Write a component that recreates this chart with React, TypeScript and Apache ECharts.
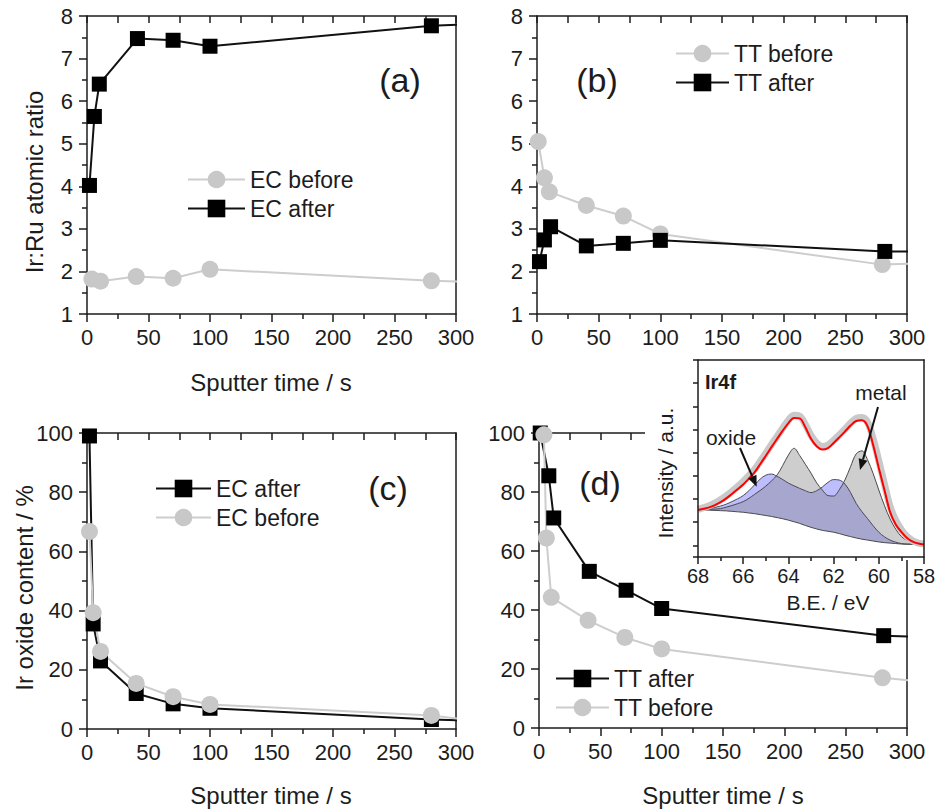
import React, { useEffect, useRef } from "react";
import * as echarts from "echarts";

const FONT = "'Liberation Sans', Arial, Helvetica, sans-serif";
const AX = "#1c1c1c";
const TXT = "#1c1c1c";

// ---------- Panel (a): Ir:Ru atomic ratio, EC samples ----------
const timeA_before = [4, 11, 40, 70, 100, 280, 320];
const ratioA_before = [1.82, 1.77, 1.88, 1.84, 2.05, 1.78, 1.75];
const timeA_after = [2, 6, 10, 41, 70, 100, 280, 320];
const ratioA_after = [4.02, 5.64, 6.4, 7.47, 7.43, 7.29, 7.77, 7.82];

// ---------- Panel (b): Ir:Ru atomic ratio, TT samples ----------
const timeB_before = [1, 6, 10, 40, 70, 100, 280, 320];
const ratioB_before = [5.05, 4.2, 3.87, 3.55, 3.3, 2.88, 2.16, 2.2];
const timeB_after = [2, 6, 11, 40, 70, 100, 282, 320];
const ratioB_after = [2.23, 2.74, 3.05, 2.6, 2.66, 2.73, 2.47, 2.47];

// ---------- Panel (c): Ir oxide content, EC samples ----------
const timeC_after = [2, 5, 11, 40, 70, 100, 280, 320];
const oxideC_after = [99, 35.5, 23, 12, 8.5, 7, 3.2, 2.8];
const timeC_before = [2, 5, 11, 40, 70, 100, 280, 320];
const oxideC_before = [66.7, 39.3, 26.2, 15.4, 10.9, 8.3, 4.6, 2.6];

// ---------- Panel (d): Ir oxide content, TT samples ----------
const timeD_after = [1, 8, 12, 41, 71, 100, 281, 320];
const oxideD_after = [100, 85.5, 71.2, 53.1, 46.7, 40.5, 31.3, 30.8];
const timeD_before = [4, 6, 10, 40, 70, 100, 280, 320];
const oxideD_before = [99.4, 64.4, 44.3, 36.5, 30.7, 26.8, 17, 15.5];

// ---------- Inset: Ir4f XPS spectrum ----------
const bindingEnergy = [
  68, 67.75, 67.5, 67.25, 67, 66.75, 66.5, 66.25, 66, 65.75, 65.5, 65.25, 65, 64.75,
  64.5, 64.25, 64, 63.75, 63.5, 63.25, 63, 62.75, 62.5, 62.25, 62, 61.75, 61.5, 61.25,
  61, 60.75, 60.5, 60.25, 60, 59.75, 59.5, 59.25, 59, 58.75, 58.5, 58.25, 58,
];
const backgroundI = [
  1.53, 1.53, 1.52, 1.51, 1.5, 1.49, 1.47, 1.45, 1.43, 1.4, 1.37, 1.33, 1.29, 1.25,
  1.2, 1.15, 1.09, 1.02, 0.95, 0.86, 0.78, 0.71, 0.65, 0.61, 0.57, 0.51, 0.44, 0.38,
  0.32, 0.27, 0.23, 0.19, 0.15, 0.12, 0.1, 0.08, 0.06, 0.05, 0.05, 0.04, 0.04,
];
const oxideI = [
  1.53, 1.56, 1.59, 1.64, 1.7, 1.78, 1.89, 2.01, 2.15, 2.36, 2.61, 2.86, 3.03, 3.08,
  2.98, 2.84, 2.69, 2.57, 2.46, 2.36, 2.28, 2.36, 2.52, 2.72, 2.84, 2.82, 2.65, 2.28,
  1.81, 1.46, 1.16, 0.85, 0.57, 0.37, 0.23, 0.14, 0.08, 0.06, 0.05, 0.04, 0.04,
];
const metalI = [
  1.53, 1.54, 1.55, 1.57, 1.59, 1.65, 1.72, 1.8, 1.89, 2.03, 2.2, 2.37, 2.56, 2.78,
  3.04, 3.45, 3.9, 4.19, 3.88, 3.5, 3.12, 2.7, 2.39, 2.15, 2.13, 2.4, 2.82, 3.4,
  3.95, 4.08, 3.7, 3.1, 2.39, 1.72, 1.14, 0.7, 0.38, 0.22, 0.13, 0.07, 0.04,
];
const fitI = [
  1.53, 1.58, 1.64, 1.74, 1.87, 2.03, 2.22, 2.42, 2.63, 2.88, 3.15, 3.5, 3.87, 4.24,
  4.6, 4.95, 5.28, 5.5, 5.48, 5.1, 4.6, 4.28, 4.14, 4.2, 4.42, 4.66, 4.91, 5.17,
  5.37, 5.4, 5.15, 4.33, 3.34, 2.39, 1.44, 0.9, 0.58, 0.32, 0.16, 0.08, 0.04,
];
const measuredI = [
  1.56, 1.63, 1.71, 1.83, 1.97, 2.14, 2.33, 2.54, 2.76, 3.01, 3.28, 3.62, 3.98, 4.35,
  4.7, 5.06, 5.4, 5.62, 5.58, 5.22, 4.75, 4.42, 4.27, 4.33, 4.53, 4.77, 5.02, 5.28,
  5.48, 5.52, 5.32, 4.6, 3.65, 2.65, 1.68, 1.08, 0.68, 0.38, 0.2, 0.1, 0.06,
];

const pairs = (xs: number[], ys: number[]) => xs.map((x, i) => [x, ys[i]]);

const lineCommon = { color: AX, width: 1.5 };

function bottomAxis(gridIndex: number, min: number, max: number, interval: number, extra: any = {}) {
  return {
    type: "value",
    gridIndex,
    position: "bottom",
    min,
    max,
    interval,
    axisLine: { show: true, onZero: false, lineStyle: lineCommon },
    axisTick: { show: true, inside: false, length: 8, lineStyle: lineCommon },
    minorTick: { show: true, splitNumber: 2, length: 5, lineStyle: lineCommon },
    axisLabel: { show: true, margin: 12, fontSize: 22, color: TXT, fontFamily: FONT },
    splitLine: { show: false },
    minorSplitLine: { show: false },
    ...extra,
  };
}
function topAxis(gridIndex: number, min: number, max: number, interval: number, ticks: boolean, extra: any = {}) {
  return {
    type: "value",
    gridIndex,
    position: "top",
    min,
    max,
    interval,
    axisLine: { show: true, onZero: false, lineStyle: lineCommon },
    axisTick: { show: ticks, inside: true, length: 7, lineStyle: lineCommon },
    minorTick: { show: ticks, splitNumber: 2, length: 7, lineStyle: lineCommon },
    axisLabel: { show: false },
    splitLine: { show: false },
    minorSplitLine: { show: false },
    ...extra,
  };
}
function leftAxis(gridIndex: number, min: number, max: number, interval: number | undefined, labels: boolean, extra: any = {}) {
  const ax: any = {
    type: "value",
    gridIndex,
    position: "left",
    min,
    max,
    axisLine: { show: true, onZero: false, lineStyle: lineCommon },
    axisTick: { show: true, inside: false, length: 8, lineStyle: lineCommon },
    minorTick: { show: true, splitNumber: 2, length: 5, lineStyle: lineCommon },
    axisLabel: { show: labels, margin: 14, fontSize: 22, color: TXT, fontFamily: FONT },
    splitLine: { show: false },
    minorSplitLine: { show: false },
    ...extra,
  };
  if (interval !== undefined) ax.interval = interval;
  return ax;
}
function rightAxis(gridIndex: number, min: number, max: number, extra: any = {}) {
  return {
    type: "value",
    gridIndex,
    position: "right",
    min,
    max,
    axisLine: { show: true, onZero: false, lineStyle: lineCommon },
    axisTick: { show: false },
    minorTick: { show: false },
    axisLabel: { show: false },
    splitLine: { show: false },
    ...extra,
  };
}

function expSeries(name: string, xs: number[], ys: number[], panel: number, black: boolean) {
  return {
    type: "line",
    name,
    xAxisIndex: panel * 2,
    yAxisIndex: panel * 2,
    data: pairs(xs, ys),
    symbol: black ? "rect" : "circle",
    symbolSize: black ? 15 : 17,
    showAllSymbol: true,
    clip: true,
    lineStyle: { color: black ? "#111111" : "#cdcdcd", width: 2 },
    itemStyle: { color: black ? "#000000" : "#c8c8c8" },
    emphasis: { disabled: true },
    z: 2,
  };
}

function insetSeries(name: string, ys: number[], opts: any) {
  return {
    type: "line",
    name,
    xAxisIndex: 8,
    yAxisIndex: 8,
    data: pairs(bindingEnergy, ys),
    symbol: "none",
    showSymbol: false,
    smooth: 0.35,
    clip: true,
    emphasis: { disabled: true },
    z: 8,
    ...opts,
  };
}

function arrow(x1: number, y1: number, x2: number, y2: number) {
  const dx = x2 - x1;
  const dy = y2 - y1;
  const len = Math.sqrt(dx * dx + dy * dy);
  const ux = dx / len;
  const uy = dy / len;
  const hl = 11;
  const hw = 4.5;
  const bx = x2 - ux * hl;
  const by = y2 - uy * hl;
  return [
    {
      type: "line",
      z: 14,
      shape: { x1, y1, x2: bx, y2: by },
      style: { stroke: "#111", lineWidth: 2 },
    },
    {
      type: "polygon",
      z: 14,
      shape: {
        points: [
          [x2, y2],
          [bx - uy * hw, by + ux * hw],
          [bx + uy * hw, by - ux * hw],
        ],
      },
      style: { fill: "#111" },
    },
  ];
}

function txt(text: string, x: number, y: number, size: number, extra: any = {}) {
  return {
    type: "text",
    x,
    y,
    z: 14,
    ...extra,
    style: {
      text,
      fill: TXT,
      font: `${extra.bold ? "bold " : ""}${size}px ${FONT}`,
      align: extra.align || "center",
      verticalAlign: "middle",
    },
  };
}

const legendBase = {
  orient: "vertical",
  itemHeight: 22,
  itemGap: 6,
  padding: 0,
  selectedMode: false,
  textStyle: { fontSize: 23, color: TXT, fontFamily: FONT },
};

export default function App() {
  const ref = useRef<HTMLDivElement>(null);

  useEffect(() => {
    if (!ref.current) return;
    const chart = echarts.init(ref.current, undefined, { renderer: "svg" });

    const option: any = {
      animation: false,
      backgroundColor: "#ffffff",
      grid: [
        { left: 87, top: 16, width: 369, height: 298, outerBoundsMode: "none" },
        { left: 537, top: 16, width: 370, height: 298, outerBoundsMode: "none" },
        { left: 87, top: 433, width: 369, height: 296, outerBoundsMode: "none" },
        { left: 539, top: 433, width: 368, height: 295, outerBoundsMode: "none" },
        { left: 698, top: 360, width: 226, height: 197, outerBoundsMode: "none" },
      ],
      xAxis: [
        bottomAxis(0, 0, 300, 50),
        topAxis(0, 0, 300, 50, true),
        bottomAxis(1, 0, 300, 50),
        topAxis(1, 0, 300, 50, true),
        bottomAxis(2, 0, 300, 50),
        topAxis(2, 0, 300, 50, true),
        bottomAxis(3, 0, 300, 50),
        topAxis(3, 0, 300, 50, true),
        bottomAxis(4, 58, 68, 2, {
          inverse: true,
          z: 12,
          axisTick: { show: true, inside: false, length: 7, lineStyle: lineCommon },
          minorTick: { show: true, splitNumber: 2, length: 4, lineStyle: lineCommon },
          axisLabel: { show: true, margin: 9, fontSize: 20, color: TXT, fontFamily: FONT },
        }),
        topAxis(4, 58, 68, 2, false, { inverse: true, z: 12 }),
      ],
      yAxis: [
        leftAxis(0, 1, 8, 1, true),
        rightAxis(0, 1, 8),
        leftAxis(1, 1, 8, 1, true),
        rightAxis(1, 1, 8),
        leftAxis(2, 0, 100, 20, true),
        rightAxis(2, 0, 100),
        leftAxis(3, 0, 100, 20, true),
        rightAxis(3, 0, 100),
        leftAxis(4, -0.5, 8, undefined, false, {
          splitNumber: 8,
          z: 12,
          axisTick: { show: true, inside: false, length: 5, lineStyle: lineCommon },
          minorTick: { show: false },
        }),
        rightAxis(4, -0.5, 8, { z: 12 }),
      ],
      legend: [
        { ...legendBase, left: 187, top: 168, itemWidth: 57, data: ["EC before", "EC after"] },
        { ...legendBase, left: 675, top: 42, itemWidth: 53, data: ["TT before", "TT after"] },
        { ...legendBase, left: 155, top: 477, itemWidth: 55, data: ["EC after", "EC before"] },
        { ...legendBase, left: 555, top: 667, itemWidth: 53, data: ["TT after", "TT before"] },
      ],
      series: [
        expSeries("EC before", timeA_before, ratioA_before, 0, false),
        expSeries("EC after", timeA_after, ratioA_after, 0, true),
        expSeries("TT before", timeB_before, ratioB_before, 1, false),
        expSeries("TT after", timeB_after, ratioB_after, 1, true),
        expSeries("EC after", timeC_after, oxideC_after, 2, true),
        expSeries("EC before", timeC_before, oxideC_before, 2, false),
        expSeries("TT after", timeD_after, oxideD_after, 3, true),
        expSeries("TT before", timeD_before, oxideD_before, 3, false),
        insetSeries("oxide component", oxideI, {
          lineStyle: { color: "#4a4a5a", width: 1 },
          areaStyle: { color: "rgba(100,100,255,0.6)", origin: "start" },
        }),
        insetSeries("metal component", metalI, {
          lineStyle: { color: "#4a4a4a", width: 1 },
          areaStyle: { color: "rgba(128,128,128,0.55)", origin: "start" },
        }),
        insetSeries("background", backgroundI, {
          lineStyle: { color: "#4a4a4a", width: 1 },
          areaStyle: { color: "#ffffff", opacity: 1, origin: "start" },
        }),
        insetSeries("measured", measuredI, {
          lineStyle: { color: "#c9c9c9", width: 7 },
        }),
        insetSeries("fit", fitI, {
          lineStyle: { color: "#ff0000", width: 2 },
        }),
      ],
      graphic: [
        {
          type: "rect",
          z: 6,
          shape: { x: 645, y: 352, width: 292, height: 208 },
          style: { fill: "#ffffff" },
        },
        txt("(a)", 400, 80, 34),
        txt("(b)", 597, 80, 34),
        txt("(c)", 388, 488, 34),
        txt("(d)", 600, 483, 34),
        txt("Sputter time / s", 271, 382, 24),
        txt("Sputter time / s", 271, 795, 24),
        txt("Sputter time / s", 723, 795, 24),
        txt("Ir:Ru atomic ratio", 34, 182, 24, { rotation: Math.PI / 2 }),
        txt("Ir oxide content / %", 24, 588, 24, { rotation: Math.PI / 2 }),
        txt("Intensity / a.u.", 665, 473, 21, { rotation: Math.PI / 2 }),
        txt("B.E. / eV", 828, 602, 21),
        txt("Ir4f", 705, 382, 20, { bold: true, align: "left" }),
        txt("oxide", 731, 437, 21),
        txt("metal", 881, 392, 21),
        ...arrow(740, 448, 756.7, 486.7),
        ...arrow(878, 407, 860, 470),
      ],
    };

    chart.setOption(option);
    return () => chart.dispose();
  }, []);

  return (
    <div
      ref={ref}
      style={{ position: "fixed", left: 0, top: 0, width: 937, height: 809, background: "#fff" }}
    />
  );
}
